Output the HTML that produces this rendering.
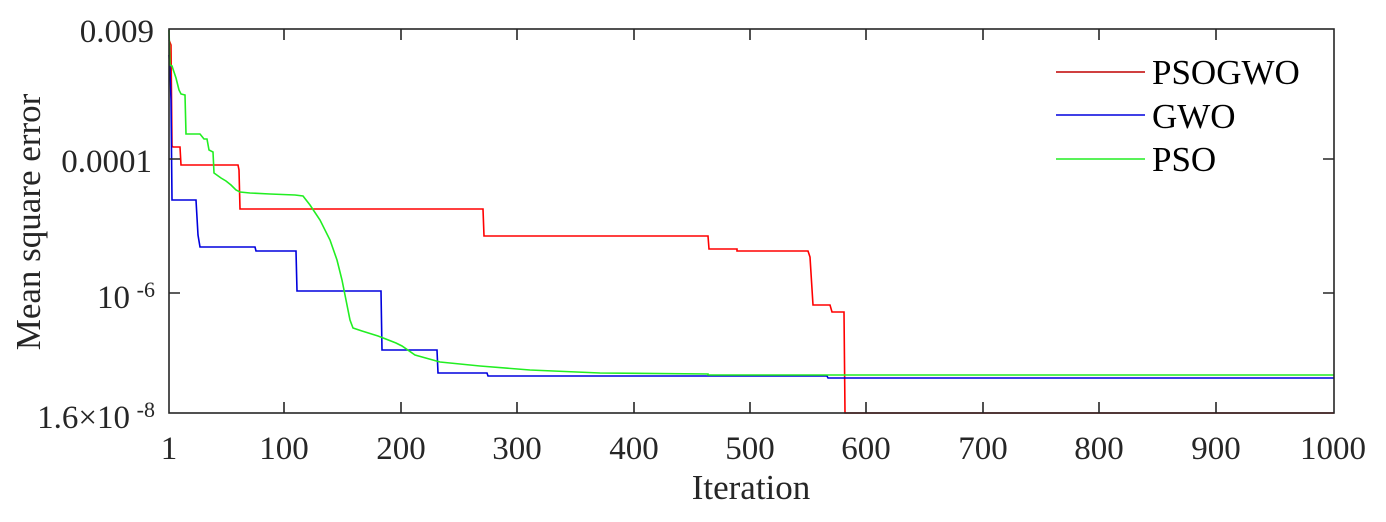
<!DOCTYPE html>
<html><head><meta charset="utf-8"><style>
html,body{margin:0;padding:0;background:#fff;}
svg{display:block;font-family:"Liberation Serif",serif;}
</style></head><body>
<svg width="1386" height="522" viewBox="0 0 1386 522" xmlns="http://www.w3.org/2000/svg">
<rect width="1386" height="522" fill="#fff"/>
<g fill="none" stroke-width="1.6">
<polyline stroke="#ff0000" points="169,40 171,45 172,146 173,147 180,147 181,165 238,165 239,170 240,209 483,209 484,236 708,236 709,249 737,249 737,251 808,251 810,257 813,305 830,305 832,312 844,312 845,413 1334,413"/>
<polyline stroke="#0000dd" points="169,55 170,70 171,100 172,200 196,200 198,235 200,247 255,247 256,251 296,251 297,291 381,291 382,350 437,350 438,373 487,373 488,376 827,376 828,378 1334,378"/>
<polyline stroke="#22ee22" points="169,30 170,65 172,66 176,78 179,90 181,94 185,95 186,134 200,134 204,139 207,139 209,150 213,152 214,173 221,178 226,181 231,185 236,190 240,192 250,193 270,194 295,195 303,196 310,205 320,220 330,240 337,260 342,280 346,300 350,320 353,328 362,331 378,336 396,343 402,346 415,355 440,362 480,366 530,370 600,373 708,374 708,375 1334,375"/>
</g>
<g stroke="#262626" stroke-width="1.6" fill="none">
<rect x="169" y="29" width="1165" height="384"/>
<path d="M284,413v-11M401,413v-11M517,413v-11M634,413v-11M750,413v-11M866,413v-11M983,413v-11M1099,413v-11M1216,413v-11"/>
<path d="M284,29v11M401,29v11M517,29v11M634,29v11M750,29v11M866,29v11M983,29v11M1099,29v11M1216,29v11"/>
<path d="M169,159h11M169,293h11M1334,159h-11M1334,293h-11"/>
</g>
<g font-size="33" fill="#262626" text-anchor="middle">
<text x="169" y="459">1</text>
<text x="284" y="459">100</text>
<text x="401" y="459">200</text>
<text x="517" y="459">300</text>
<text x="634" y="459">400</text>
<text x="750" y="459">500</text>
<text x="866" y="459">600</text>
<text x="983" y="459">700</text>
<text x="1099" y="459">800</text>
<text x="1216" y="459">900</text>
<text x="1333" y="459">1000</text>
<text x="751" y="499" font-size="35">Iteration</text>
</g>
<g font-size="33" fill="#262626" text-anchor="end">
<text x="154" y="42">0.009</text>
<text x="152" y="172">0.0001</text>
<text x="130" y="308">10</text><text x="155" y="297" font-size="22">-6</text>
<text x="130" y="428">1.6×10</text><text x="155" y="417" font-size="22">-8</text>
</g>
<text transform="translate(40,222) rotate(-90)" font-size="35" fill="#262626" text-anchor="middle">Mean square error</text>
<g stroke-width="1.6">
<line x1="1056" y1="72" x2="1145" y2="72" stroke="#c00000"/>
<line x1="1056" y1="115" x2="1145" y2="115" stroke="#0000dd"/>
<line x1="1056" y1="159" x2="1145" y2="159" stroke="#22ee22"/>
</g>
<g font-size="35" fill="#000">
<text x="1152" y="84">PSOGWO</text>
<text x="1152" y="128">GWO</text>
<text x="1152" y="171">PSO</text>
</g>
</svg>
</body></html>
